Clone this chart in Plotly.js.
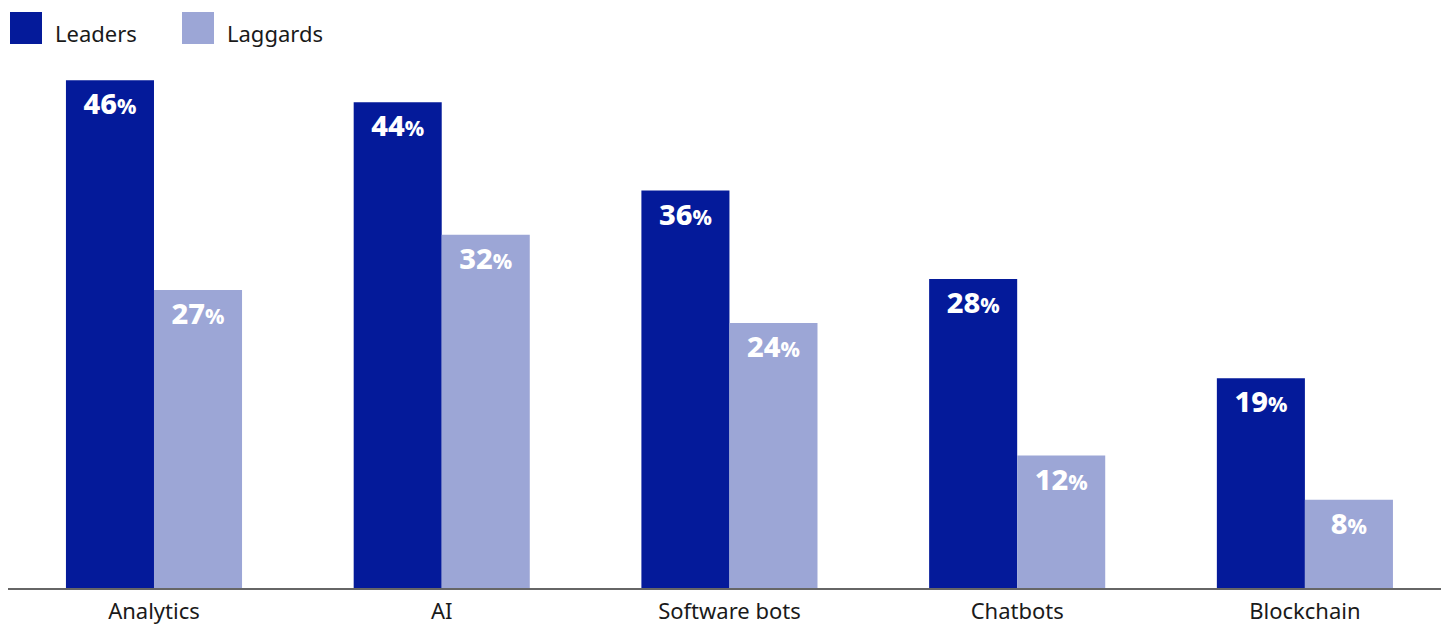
<!DOCTYPE html>
<html>
<head>
<meta charset="utf-8">
<script src="https://cdn.plot.ly/plotly-3.0.1.min.js"></script>
<style>html,body{margin:0;padding:0;background:#fff;}#chart{width:1441px;height:624px;}</style>
</head>
<body>
<div id="chart"></div>
<script>
const categories = ["Analytics", "AI", "Software bots", "Chatbots", "Blockchain"];
const leaders = [46, 44, 36, 28, 19];
const laggards = [27, 32, 24, 12, 8];
const seriesNames = ["Leaders", "Laggards"];
const colors = ["#041a9a", "#9ca6d6"];

const FONT = "Noto Sans, Open Sans, sans-serif";
const barW = 0.306;

function barTrace(name, values, color, offset) {
  return {
    type: "bar",
    name: name,
    x: categories,
    y: values,
    width: barW,
    offset: offset,
    marker: { color: color, line: { width: 0 } },
    texttemplate: "%{y}<span style='font-size:21px'>%</span>",
    textposition: "inside",
    insidetextanchor: "end",
    constraintext: "none",
    textangle: 0,
    insidetextfont: { family: FONT, size: 29, color: "#ffffff", weight: 800 },
    hoverinfo: "skip",
    showlegend: false
  };
}

const data = [
  barTrace(seriesNames[0], leaders, colors[0], -barW),
  barTrace(seriesNames[1], laggards, colors[1], 0)
];

const shapes = [];
const annotations = [];
const legendX = [10, 182];
seriesNames.forEach((n, i) => {
  shapes.push({
    type: "rect", xref: "paper", yref: "paper",
    x0: (legendX[i] - 8) / 1433, x1: (legendX[i] + 24) / 1433,
    y0: (588.5 - 12) / 528.5, y1: (588.5 - 44) / 528.5,
    fillcolor: colors[i], line: { width: 0 }
  });
  annotations.push({
    xref: "paper", yref: "paper",
    x: (legendX[i] + 35) / 1433, y: (588.5 - 33) / 528.5,
    xanchor: "left", yanchor: "middle",
    text: n, showarrow: false,
    font: { family: FONT, size: 22, color: "#1a1a1a" }
  });
});

const layout = {
  width: 1441, height: 624,
  margin: { l: 8, r: 0, t: 60, b: 35.5 },
  paper_bgcolor: "#ffffff", plot_bgcolor: "#ffffff",
  showlegend: false,
  xaxis: {
    type: "category",
    range: [-0.5074, 4.473],
    showgrid: false, zeroline: false,
    showline: true, linecolor: "#666666", linewidth: 2,
    ticks: "", ticklen: 0,
    ticklabelstandoff: 3,
    tickfont: { family: FONT, size: 22, color: "#1a1a1a" },
    fixedrange: true
  },
  yaxis: {
    range: [0, 47.83],
    visible: false, showgrid: false, zeroline: false,
    fixedrange: true
  },
  shapes: shapes,
  annotations: annotations,
  font: { family: FONT }
};

Plotly.newPlot("chart", data, layout, { displayModeBar: false, staticPlot: true });
</script>
</body>
</html>
